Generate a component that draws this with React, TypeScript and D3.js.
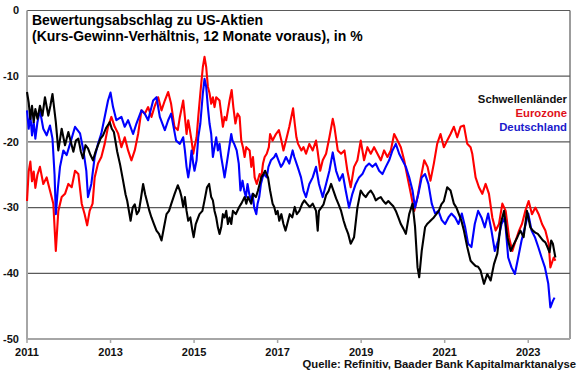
import React from "react";
import * as d3 from "d3";

const yearTicks = [2011, 2013, 2015, 2017, 2019, 2021, 2023];
const valueTicks = [0, -10, -20, -30, -40, -50];

const titleLines = [
  "Bewertungsabschlag zu US-Aktien",
  "(Kurs-Gewinn-Verhältnis, 12 Monate voraus), in %",
];
const sourceText = "Quelle: Refinitiv, Baader Bank Kapitalmarktanalyse";
const seriesNames = ["Schwellenländer", "Eurozone", "Deutschland"];
const seriesColors = ["#000000", "#ff0000", "#0000ff"];

const schwellenlaender: [number, number][] = [
  [2011.0, -12.4], [2011.04, -14], [2011.08, -16.5], [2011.12, -14.5], [2011.16, -17], [2011.2, -15],
  [2011.25, -16.5], [2011.31, -14.5], [2011.37, -16], [2011.43, -13.2], [2011.51, -16], [2011.56, -14.5],
  [2011.61, -12.7], [2011.69, -17], [2011.75, -21.3], [2011.83, -18], [2011.91, -20.5], [2011.99, -18.5],
  [2012.05, -20], [2012.11, -21.5], [2012.17, -19.8], [2012.23, -19.5], [2012.29, -21.5], [2012.34, -22.5],
  [2012.4, -20.5], [2012.46, -21], [2012.52, -22], [2012.58, -22.8], [2012.64, -21.5], [2012.7, -20.5],
  [2012.76, -19.5], [2012.82, -19], [2012.9, -17.8], [2012.98, -17], [2013.03, -18], [2013.08, -18.5],
  [2013.16, -21.5], [2013.23, -23.5], [2013.3, -25.9], [2013.36, -28], [2013.4, -29], [2013.48, -32],
  [2013.53, -30], [2013.58, -29.5], [2013.63, -31], [2013.68, -30.5], [2013.73, -28.5], [2013.78, -26.4],
  [2013.83, -28], [2013.87, -29], [2013.93, -30.5], [2013.98, -31.5], [2014.04, -32.5], [2014.1, -33.5],
  [2014.16, -34], [2014.22, -35], [2014.28, -33], [2014.34, -31], [2014.4, -30.5], [2014.45, -29.5],
  [2014.53, -28], [2014.61, -26.6], [2014.66, -27.4], [2014.7, -28.4], [2014.74, -29.9], [2014.78, -28.4],
  [2014.82, -30.5], [2014.86, -32], [2014.91, -31.5], [2014.96, -33.5], [2014.99, -34.5], [2015.04, -32.5],
  [2015.1, -31.5], [2015.13, -31], [2015.2, -30.5], [2015.25, -28.9], [2015.31, -26.9], [2015.36, -26.4],
  [2015.41, -28.4], [2015.45, -28.9], [2015.49, -30.5], [2015.53, -31.5], [2015.57, -33], [2015.61, -34],
  [2015.65, -33], [2015.69, -31], [2015.73, -31.5], [2015.77, -30.5], [2015.81, -32.5], [2015.85, -31.5],
  [2015.89, -32.5], [2015.93, -30.5], [2016.0, -31], [2016.08, -29.9], [2016.13, -29.4], [2016.17, -28.9],
  [2016.21, -28.4], [2016.25, -29.4], [2016.29, -28.4], [2016.33, -28.9], [2016.37, -29.4], [2016.41, -27.9],
  [2016.48, -28.4], [2016.53, -27.4], [2016.57, -26.4], [2016.61, -25.4], [2016.66, -24.9], [2016.7, -24.4],
  [2016.77, -25.4], [2016.82, -27.4], [2016.88, -29.4], [2016.92, -29.9], [2016.96, -31], [2017.0, -30.5],
  [2017.04, -32], [2017.09, -31], [2017.14, -32.5], [2017.19, -33.5], [2017.25, -32], [2017.29, -31],
  [2017.35, -31.5], [2017.41, -29.9], [2017.46, -31], [2017.52, -30.5], [2017.59, -29.4], [2017.64, -28.9],
  [2017.7, -29.4], [2017.77, -29.9], [2017.84, -29.4], [2017.92, -30.5], [2017.96, -33.5], [2017.99, -30.5],
  [2018.1, -29.5], [2018.16, -28.1], [2018.22, -27.5], [2018.28, -26.4], [2018.34, -27.5], [2018.4, -28.6],
  [2018.46, -29.5], [2018.52, -30.5], [2018.58, -32], [2018.63, -33], [2018.69, -34], [2018.75, -35.5],
  [2018.83, -34.5], [2018.91, -30], [2018.99, -27.4], [2019.05, -28], [2019.11, -28.4], [2019.17, -27.8],
  [2019.23, -27.4], [2019.29, -28], [2019.35, -28.9], [2019.41, -28.6], [2019.47, -28.4], [2019.53, -29],
  [2019.59, -29.4], [2019.65, -29], [2019.71, -29.4], [2019.77, -29.8], [2019.83, -30.5], [2019.89, -31.5],
  [2019.95, -32.5], [2020.01, -33.2], [2020.07, -34], [2020.15, -31], [2020.23, -29.4], [2020.29, -32.9],
  [2020.35, -39.1], [2020.39, -40.6], [2020.45, -36.6], [2020.53, -33], [2020.58, -32.5], [2020.63, -32.2],
  [2020.69, -31.8], [2020.74, -31.5], [2020.8, -31], [2020.86, -30.5], [2020.92, -29.5], [2020.98, -29],
  [2021.06, -26.9], [2021.14, -27.4], [2021.22, -29.4], [2021.28, -30], [2021.34, -31], [2021.4, -32],
  [2021.46, -33.5], [2021.54, -36], [2021.62, -38.1], [2021.68, -38.5], [2021.74, -38.9], [2021.8, -39],
  [2021.86, -39.6], [2021.94, -41.6], [2022.02, -40.1], [2022.1, -41.1], [2022.18, -38.6], [2022.26, -37],
  [2022.34, -32.5], [2022.42, -30.5], [2022.5, -34.5], [2022.58, -36.6], [2022.66, -35.5], [2022.74, -34.5],
  [2022.81, -33.5], [2022.89, -34.5], [2022.97, -30.5], [2023.05, -33], [2023.11, -33.5], [2023.17, -33.8],
  [2023.23, -34], [2023.29, -34.5], [2023.35, -35], [2023.41, -35.3], [2023.46, -36], [2023.51, -36.8],
  [2023.55, -35], [2023.59, -35.5], [2023.65, -37.6],
];

const eurozone: [number, number][] = [
  [2011.0, -29], [2011.04, -24.5], [2011.08, -23], [2011.12, -26], [2011.16, -24.5], [2011.2, -27],
  [2011.25, -25], [2011.31, -23.8], [2011.39, -26.4], [2011.47, -25.4], [2011.55, -27.4], [2011.63, -29.4],
  [2011.69, -36.6], [2011.75, -30.5], [2011.83, -28.4], [2011.91, -27.9], [2011.99, -26.4], [2012.07, -26.9],
  [2012.15, -24.4], [2012.23, -24.9], [2012.31, -29.4], [2012.38, -31], [2012.44, -32.7], [2012.5, -30.5],
  [2012.57, -29.4], [2012.62, -25.4], [2012.7, -23.3], [2012.78, -22.3], [2012.86, -20.3], [2012.94, -17.7],
  [2013.02, -16.2], [2013.1, -17.7], [2013.18, -18.7], [2013.26, -20.8], [2013.34, -19.3], [2013.42, -21.3],
  [2013.5, -22.8], [2013.58, -21.3], [2013.66, -18.8], [2013.74, -15.2], [2013.82, -15.7], [2013.9, -14.7],
  [2013.98, -16.2], [2014.06, -14.5], [2014.14, -13.2], [2014.22, -15.2], [2014.3, -13.7], [2014.38, -12.4],
  [2014.45, -14.2], [2014.53, -17.7], [2014.61, -18.2], [2014.66, -16.2], [2014.74, -13.7], [2014.78, -16.2],
  [2014.82, -18.8], [2014.86, -16.7], [2014.9, -18.2], [2014.94, -19.8], [2014.98, -21.8], [2015.01, -20.8],
  [2015.06, -19.3], [2015.1, -16.2], [2015.15, -12.6], [2015.21, -8.6], [2015.25, -7.05], [2015.29, -8.6],
  [2015.33, -11.6], [2015.37, -12.6], [2015.41, -14.2], [2015.45, -13.2], [2015.49, -14.7], [2015.53, -13.2],
  [2015.61, -13.7], [2015.65, -15.7], [2015.69, -17.7], [2015.73, -16.2], [2015.77, -16.7], [2015.81, -15.2],
  [2015.85, -13.7], [2015.9, -12.1], [2015.94, -14.7], [2015.99, -17.2], [2016.04, -15.7], [2016.09, -16.2],
  [2016.13, -19.8], [2016.17, -20.8], [2016.21, -22.3], [2016.25, -20.8], [2016.33, -21.3], [2016.37, -23.8],
  [2016.41, -22.3], [2016.45, -25.4], [2016.5, -26.4], [2016.57, -24.9], [2016.61, -25.4], [2016.65, -23.3],
  [2016.69, -22.3], [2016.74, -21.8], [2016.79, -20.8], [2016.82, -18.8], [2016.88, -19.8], [2016.96, -18.8],
  [2017.03, -18.2], [2017.09, -19.8], [2017.14, -21.3], [2017.2, -19.8], [2017.28, -17.7], [2017.37, -14.9],
  [2017.41, -17.2], [2017.45, -19.3], [2017.49, -20.3], [2017.57, -21.3], [2017.62, -20.8], [2017.68, -21.8],
  [2017.76, -20.3], [2017.84, -21.3], [2017.92, -19.8], [2017.96, -21.5], [2018.02, -24.4], [2018.08, -22.8],
  [2018.16, -21.8], [2018.24, -19.3], [2018.32, -16.5], [2018.36, -17.7], [2018.44, -21.3], [2018.52, -21.8],
  [2018.6, -21.3], [2018.67, -24.4], [2018.75, -26.9], [2018.83, -23.8], [2018.91, -22.8], [2018.99, -19.8],
  [2019.07, -22.8], [2019.15, -20.8], [2019.23, -21.8], [2019.31, -20.8], [2019.39, -21.8], [2019.47, -22.8],
  [2019.55, -21.3], [2019.63, -22.3], [2019.71, -21.3], [2019.79, -18.8], [2019.87, -19.8], [2019.95, -20.8],
  [2020.03, -22.8], [2020.11, -25.4], [2020.19, -27.9], [2020.27, -30.5], [2020.35, -28.4], [2020.43, -25.4],
  [2020.51, -22.8], [2020.59, -23.8], [2020.66, -25.9], [2020.74, -23.3], [2020.82, -20.3], [2020.9, -18.8],
  [2020.98, -20.8], [2021.06, -19.8], [2021.14, -18.8], [2021.22, -17.7], [2021.3, -19.3], [2021.38, -17.7],
  [2021.46, -17.5], [2021.54, -20.3], [2021.62, -20.8], [2021.66, -21.8], [2021.74, -25.4], [2021.82, -26.9],
  [2021.9, -27.9], [2021.98, -26.4], [2022.06, -27.9], [2022.14, -31.5], [2022.22, -33.5], [2022.3, -32.5],
  [2022.38, -29.4], [2022.46, -30.5], [2022.54, -34.5], [2022.62, -36.6], [2022.7, -35], [2022.78, -33.5],
  [2022.85, -32.5], [2022.93, -30.5], [2023.01, -29], [2023.09, -31], [2023.17, -30], [2023.25, -31],
  [2023.33, -32.5], [2023.41, -33.5], [2023.49, -35.5], [2023.53, -39.1], [2023.61, -37.6], [2023.65, -38.1],
];

const deutschland: [number, number][] = [
  [2011.0, -15.2], [2011.04, -18], [2011.08, -16], [2011.12, -19], [2011.16, -17], [2011.2, -19.5],
  [2011.25, -17], [2011.31, -15.2], [2011.39, -18], [2011.47, -19], [2011.55, -17.5], [2011.61, -19.5],
  [2011.66, -25], [2011.69, -31], [2011.74, -27], [2011.79, -23.8], [2011.87, -21.3], [2011.95, -22],
  [2012.03, -20.3], [2012.15, -17.7], [2012.27, -18.7], [2012.35, -21.3], [2012.42, -24.4], [2012.46, -28.4],
  [2012.54, -26.4], [2012.62, -22.3], [2012.7, -20.3], [2012.78, -18.7], [2012.86, -16.2], [2012.94, -13.7],
  [2013.0, -12.5], [2013.06, -14.7], [2013.14, -16.7], [2013.26, -16.2], [2013.34, -17.7], [2013.42, -16.7],
  [2013.54, -18.8], [2013.62, -17.2], [2013.74, -15.2], [2013.82, -15.7], [2013.9, -16.7], [2014.02, -13.7],
  [2014.1, -13.2], [2014.18, -16.2], [2014.3, -18.2], [2014.38, -16.7], [2014.45, -15.7], [2014.57, -19.8],
  [2014.66, -20.3], [2014.74, -19.3], [2014.78, -21.3], [2014.82, -23.8], [2014.86, -25.4], [2014.9, -23.8],
  [2014.94, -21.3], [2014.98, -23.3], [2015.01, -24.4], [2015.06, -22.8], [2015.1, -19.3], [2015.15, -17.2],
  [2015.21, -12.6], [2015.25, -10.4], [2015.29, -11.6], [2015.33, -14.7], [2015.37, -17.2], [2015.41, -18.8],
  [2015.45, -22.3], [2015.49, -20.8], [2015.53, -19.3], [2015.57, -21.3], [2015.61, -20.3], [2015.65, -22.3],
  [2015.69, -23.8], [2015.73, -25.4], [2015.77, -23.8], [2015.83, -21.3], [2015.89, -18.8], [2015.92, -19.8],
  [2015.96, -20.3], [2016.02, -21.3], [2016.07, -23.3], [2016.11, -27.4], [2016.16, -25.9], [2016.2, -27.4],
  [2016.24, -28.4], [2016.28, -26.4], [2016.32, -27.9], [2016.36, -28.9], [2016.4, -27.9], [2016.44, -30],
  [2016.49, -31], [2016.52, -29.4], [2016.56, -28.4], [2016.6, -26.4], [2016.64, -25.4], [2016.68, -24.9],
  [2016.74, -25.4], [2016.78, -23.8], [2016.84, -22.8], [2016.92, -22.3], [2016.96, -21.8], [2017.02, -22.8],
  [2017.08, -23.8], [2017.13, -23.3], [2017.2, -22.3], [2017.28, -23.3], [2017.36, -21.3], [2017.4, -22.3],
  [2017.48, -23.8], [2017.56, -25.4], [2017.62, -27.4], [2017.68, -28.4], [2017.76, -26.4], [2017.84, -25.4],
  [2017.92, -23.8], [2017.99, -26.4], [2018.08, -28.4], [2018.16, -26.4], [2018.24, -24.4], [2018.32, -21.6],
  [2018.4, -24.4], [2018.48, -25.9], [2018.56, -24.9], [2018.63, -27.4], [2018.71, -30], [2018.79, -27.9],
  [2018.87, -26.4], [2018.95, -25.4], [2019.03, -24.9], [2019.11, -23.8], [2019.19, -23.3], [2019.27, -23.8],
  [2019.35, -23.3], [2019.43, -24.4], [2019.51, -24.9], [2019.59, -23.8], [2019.67, -22.8], [2019.75, -21.3],
  [2019.83, -20.3], [2019.91, -21.8], [2019.99, -22.8], [2020.07, -23.8], [2020.15, -25.4], [2020.23, -27.4],
  [2020.29, -30], [2020.37, -27.9], [2020.45, -25.4], [2020.53, -24.9], [2020.61, -26.4], [2020.69, -29.4],
  [2020.77, -30.9], [2020.85, -30.5], [2020.93, -31.9], [2021.01, -32.5], [2021.09, -31.5], [2021.16, -30.9],
  [2021.25, -31.5], [2021.33, -32.5], [2021.41, -30.9], [2021.49, -33], [2021.56, -35.5], [2021.64, -36],
  [2021.72, -32.5], [2021.8, -30.5], [2021.88, -31.5], [2021.96, -33], [2022.04, -30.9], [2022.12, -33.5],
  [2022.2, -36.6], [2022.28, -35], [2022.36, -32.5], [2022.44, -31.5], [2022.52, -37.6], [2022.6, -39.1],
  [2022.68, -40.1], [2022.76, -37.6], [2022.84, -35], [2022.92, -33], [2023.0, -30.9], [2023.08, -33.5],
  [2023.16, -34.5], [2023.24, -36], [2023.32, -37.6], [2023.4, -39.1], [2023.48, -41.6], [2023.53, -45.2],
  [2023.59, -44.2], [2023.63, -43.7],
];

const W = 580;
const H = 375;
const M = { left: 27, right: 570, top: 10.5, bottom: 339 };
const FONT = "'Liberation Sans', Arial, sans-serif";

export default function App() {
  const x = d3.scaleLinear().domain([2011, 2024]).range([M.left, M.right]);
  const y = d3.scaleLinear().domain([-50, 0]).range([M.bottom, M.top]);
  const line = d3
    .line<[number, number]>()
    .x((d) => x(d[0]))
    .y((d) => y(d[1]));

  const series = [eurozone, deutschland, schwellenlaender];
  const seriesColorOrder = [seriesColors[1], seriesColors[2], seriesColors[0]];

  return (
    <svg
      width={W}
      height={H}
      style={{ position: "absolute", left: 0, top: 0, background: "#fff" }}
      fontFamily={FONT}
    >
      <rect x={0} y={0} width={W} height={H} fill="#fff" />
      {valueTicks.map((v) => (
        <g key={v}>
          {v > -50 && (
            <line x1={M.left} x2={M.right} y1={y(v)} y2={y(v)} stroke="#5a5a5a" strokeWidth={1.2} />
          )}
          <text x={19} y={y(v)} dy="0.35em" textAnchor="end" fontSize={11} fontWeight="bold" fill="#111">
            {v}
          </text>
        </g>
      ))}
      <line x1={M.right} x2={M.right} y1={M.top} y2={M.bottom} stroke="#5a5a5a" strokeWidth={1.2} />
      <line x1={M.left} x2={M.left} y1={M.top} y2={M.bottom + 0.5} stroke="#a6a6a6" strokeWidth={2} />
      <line x1={M.left} x2={M.right} y1={M.bottom} y2={M.bottom} stroke="#a6a6a6" strokeWidth={2} />
      {yearTicks.map((t) => (
        <g key={t}>
          <line x1={x(t)} x2={x(t)} y1={M.bottom} y2={M.bottom + 4} stroke="#a6a6a6" strokeWidth={1.5} />
          <text x={x(t)} y={356} textAnchor="middle" fontSize={11} fontWeight="bold" fill="#111">
            {t}
          </text>
        </g>
      ))}
      {series.map((s, i) => (
        <path
          key={i}
          d={line(s) || ""}
          fill="none"
          stroke={seriesColorOrder[i]}
          strokeWidth={2.1}
          strokeLinejoin="round"
        />
      ))}
      {titleLines.map((t, i) => (
        <text key={i} x={32} y={25 + i * 16} fontSize={14} fontWeight="bold" fill="#000">
          {t}
        </text>
      ))}
      {seriesNames.map((n, i) => (
        <text
          key={n}
          x={567}
          y={103 + i * 14}
          textAnchor="end"
          fontSize={11.3}
          fontWeight="bold"
          fill={i === 0 ? "#111" : i === 1 ? "#e0101a" : "#1a1acc"}
        >
          {n}
        </text>
      ))}
      <text x={576} y={368} textAnchor="end" fontSize={11.3} fontWeight="bold" fill="#111">
        {sourceText}
      </text>
    </svg>
  );
}
